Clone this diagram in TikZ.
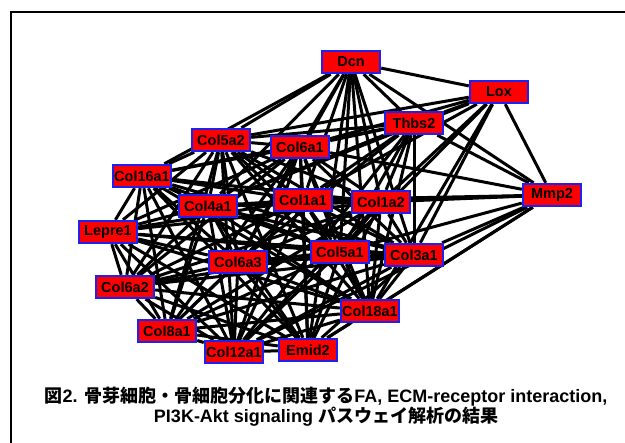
\documentclass[tikz,border=0pt]{standalone}
\usepackage{fontspec}
\setmainfont{Liberation Sans}
\newfontfamily\jpfont{Noto Sans CJK JP}
\usetikzlibrary{backgrounds}
\definecolor{genefill}{HTML}{FF0000}
\definecolor{geneline}{HTML}{2020F0}

\begin{document}
\begin{tikzpicture}[x=1pt,y=-1pt,gene/.style={draw=geneline,line width=2.4pt,fill=genefill,minimum width=58pt,minimum height=22pt,inner sep=0pt,font=\fontsize{14.5}{15}\selectfont\bfseries},link/.style={draw=black,line width=3pt}]
\useasboundingbox (0,0) rectangle (625,443);
\draw[line width=2pt] (11,12) rectangle (640,460);
% genes
\node[gene] (dcn) at (351,62) {Dcn};
\node[gene] (lox) at (499,92) {Lox};
\node[gene] (thbs2) at (414,123) {Thbs2};
\node[gene] (col5a2) at (221,140) {Col5a2};
\node[gene] (col6a1) at (300,147) {Col6a1};
\node[gene] (col16a1) at (142,176) {Col16a1};
\node[gene] (col4a1) at (208,206) {Col4a1};
\node[gene] (col1a1) at (303,200) {Col1a1};
\node[gene] (col1a2) at (381,202) {Col1a2};
\node[gene] (mmp2) at (552,195) {Mmp2};
\node[gene] (lepre1) at (108,232) {Lepre1};
\node[gene] (col6a3) at (238,262) {Col6a3};
\node[gene] (col5a1) at (340,252) {Col5a1};
\node[gene] (col3a1) at (414,255) {Col3a1};
\node[gene] (col6a2) at (125,287) {Col6a2};
\node[gene] (col18a1) at (370,311) {Col18a1};
\node[gene] (col8a1) at (167,331) {Col8a1};
\node[gene] (col12a1) at (234,352) {Col12a1};
\node[gene] (emid2) at (308,350) {Emid2};
% interactions
\begin{scope}[on background layer]
\foreach \a [count=\i] in {col1a1,col1a2,col3a1,col4a1,col5a1,col5a2,col6a1,col6a2,col6a3,col8a1,col12a1,col16a1,col18a1}{
  \foreach \b [count=\j] in {col1a1,col1a2,col3a1,col4a1,col5a1,col5a2,col6a1,col6a2,col6a3,col8a1,col12a1,col16a1,col18a1}{
    \ifnum\j>\i \draw[link] (\a)--(\b); \fi
  }
  \draw[link] (lepre1)--(\a);
  \draw[link] (emid2)--(\a);
}
\draw[link] (lepre1)--(emid2);
\foreach \b in {lox,thbs2,mmp2,col5a2,col6a1,col16a1,col4a1,col1a1,col1a2,col5a1,col3a1,col6a3,col18a1,emid2}
  \draw[link] (dcn)--(\b);
\foreach \b in {thbs2,mmp2,col5a2,col6a1,col1a1,col1a2,col5a1,col3a1,col18a1,col4a1}
  \draw[link] (lox)--(\b);
\foreach \b in {mmp2,col5a2,col6a1,col1a1,col1a2,col4a1,col5a1,col3a1,col6a3,col18a1,col16a1,col12a1}
  \draw[link] (thbs2)--(\b);
\foreach \b in {col6a1,col1a1,col1a2,col3a1,col5a1,col18a1,col4a1,emid2,col12a1}
  \draw[link] (mmp2)--(\b);
\end{scope}
% caption
\node[align=center,font=\fontsize{18}{20}\selectfont\bfseries] (caption) at (326,407)
  {{\jpfont 図}2. {\jpfont 骨芽細胞・骨細胞分化に関連する}FA, ECM-receptor interaction,\\
   PI3K-Akt signaling {\jpfont パスウェイ解析の結果}};
\end{tikzpicture}
\end{document}
